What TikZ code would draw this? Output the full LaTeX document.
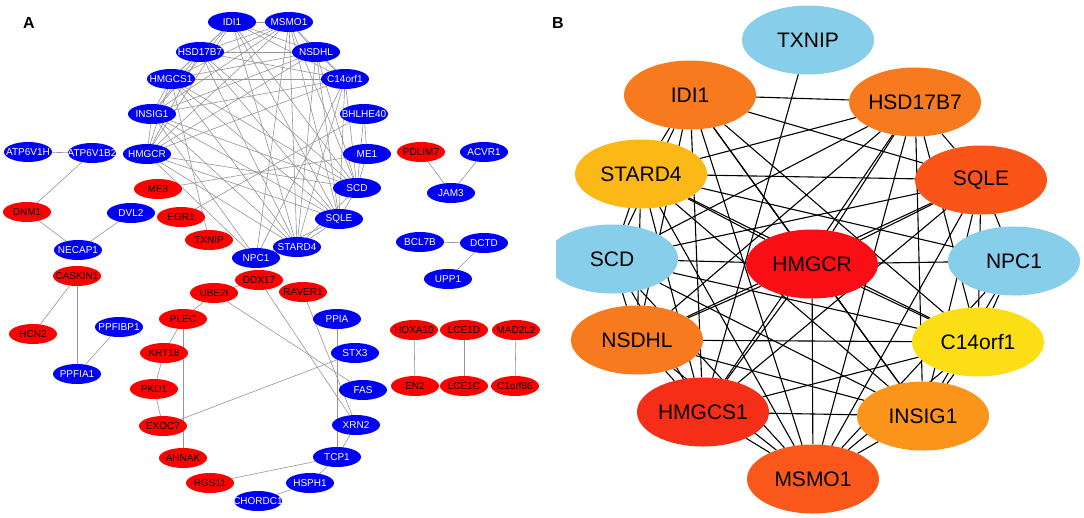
\documentclass[tikz,border=0pt]{standalone}
\usepackage{fontspec}
\setmainfont{Liberation Sans}
\usetikzlibrary{shapes.geometric}
\pgfdeclarelayer{back}
\pgfdeclarelayer{bg}
\pgfsetlayers{back,bg,main}
\definecolor{nblue}{RGB}{0,0,245}
\definecolor{nred}{RGB}{255,0,0}
\definecolor{egray}{RGB}{150,150,150}
\definecolor{lblue}{RGB}{135,206,235}
\definecolor{corA}{RGB}{248,122,30}
\definecolor{corSt}{RGB}{252,184,22}
\definecolor{corSq}{RGB}{250,84,24}
\definecolor{corHm}{RGB}{250,14,22}
\definecolor{corHc}{RGB}{245,46,24}
\definecolor{corIn}{RGB}{250,148,26}
\definecolor{corMs}{RGB}{250,88,26}
\definecolor{corC}{RGB}{252,222,22}
\newcommand{\lbl}[1]{\makebox[0pt][c]{#1}}
\tikzset{
  an/.style={ellipse, draw=none, minimum width=48pt, minimum height=20pt, inner sep=0pt, font=\fontsize{10}{11}\selectfont},
  ab/.style={an, fill=nblue, text=white},
  ar/.style={an, fill=nred, text=black},
  bn/.style={ellipse, draw=none, minimum width=132pt, minimum height=69pt, inner sep=0pt, font=\fontsize{21}{24}\selectfont, text=black},
  ae/.style={draw=egray, line width=0.6pt},
  be/.style={draw=black, line width=1.1pt},
  plabel/.style={font=\fontsize{16}{18}\selectfont\bfseries, inner sep=0pt},
}
\begin{document}
\begin{tikzpicture}[x=1pt,y=-1pt]
\useasboundingbox (0,0) rectangle (1084,517);
\begin{pgfonlayer}{back}
\fill[white] (0,0) rectangle (1084,517);
\end{pgfonlayer}
\node[plabel] (labA) at (29,23) {A};
\node[plabel] (labB) at (558,23) {B};
% ---------- panel A: main cluster
\node[ab] (aIDI1) at (232,22) {\lbl{IDI1}};
\node[ab] (aMSMO1) at (289,22) {\lbl{MSMO1}};
\node[ab] (aHSD17B7) at (200,52) {\lbl{HSD17B7}};
\node[ab] (aNSDHL) at (316,52) {\lbl{NSDHL}};
\node[ab] (aHMGCS1) at (171,79) {\lbl{HMGCS1}};
\node[ab] (aC14orf1) at (345,79) {\lbl{C14orf1}};
\node[ab] (aINSIG1) at (152,114) {\lbl{INSIG1}};
\node[ab] (aBHLHE40) at (364,114) {\lbl{BHLHE40}};
\node[ab] (aHMGCR) at (147,154) {\lbl{HMGCR}};
\node[ab] (aME1) at (367,154) {\lbl{ME1}};
\node[ar] (aME3) at (158,189) {\lbl{ME3}};
\node[ab] (aSCD) at (357,188) {\lbl{SCD}};
\node[ar] (aEGR1) at (181,217) {\lbl{EGR1}};
\node[ab] (aSQLE) at (339,219) {\lbl{SQLE}};
\node[ar] (aTXNIP) at (209,240) {\lbl{TXNIP}};
\node[ab] (aSTARD4) at (297,247) {\lbl{STARD4}};
\node[ab] (aNPC1) at (256,258) {\lbl{NPC1}};
% ---------- panel A: small components
\node[ab] (aATP6V1H) at (28,152) {\lbl{ATP6V1H}};
\node[ab] (aATP6V1B2) at (92,153) {\lbl{ATP6V1B2}};
\node[ar] (aDNM1) at (27,212) {\lbl{DNM1}};
\node[ab] (aDVL2) at (131,213) {\lbl{DVL2}};
\node[ab] (aNECAP1) at (78,250) {\lbl{NECAP1}};
\node[ar] (aCASKIN1) at (77,276) {\lbl{CASKIN1}};
\node[ar] (aHCN2) at (33,334) {\lbl{HCN2}};
\node[ab] (aPPFIBP1) at (119,327) {\lbl{PPFIBP1}};
\node[ab] (aPPFIA1) at (77,374) {\lbl{PPFIA1}};
\node[ar] (aPDLIM7) at (421,152) {\lbl{PDLIM7}};
\node[ab] (aACVR1) at (484,152) {\lbl{ACVR1}};
\node[ab] (aJAM3) at (451,193) {\lbl{JAM3}};
\node[ab] (aBCL7B) at (420,242) {\lbl{BCL7B}};
\node[ab] (aDCTD) at (484,243) {\lbl{DCTD}};
\node[ab] (aUPP1) at (448,279) {\lbl{UPP1}};
\node[ar] (aDDX17) at (259,280) {\lbl{DDX17}};
\node[ar] (aUBE2I) at (214,293) {\lbl{UBE2I}};
\node[ar] (aRAVER1) at (303,292) {\lbl{RAVER1}};
\node[ab] (aPPIA) at (337,319) {\lbl{PPIA}};
\node[ab] (aSTX3) at (355,353) {\lbl{STX3}};
\node[ab] (aFAS) at (363,390) {\lbl{FAS}};
\node[ab] (aXRN2) at (356,425) {\lbl{XRN2}};
\node[ab] (aTCP1) at (337,457) {\lbl{TCP1}};
\node[ab] (aHSPH1) at (310,483) {\lbl{HSPH1}};
\node[ab] (aCHORDC1) at (258,501) {\lbl{CHORDC1}};
\node[ar] (aPLEC) at (183,319) {\lbl{PLEC}};
\node[ar] (aKRT18) at (164,353) {\lbl{KRT18}};
\node[ar] (aPKD1) at (154,389) {\lbl{PKD1}};
\node[ar] (aEXOC7) at (163,426) {\lbl{EXOC7}};
\node[ar] (aAHNAK) at (183,458) {\lbl{AHNAK}};
\node[ar] (aRGS11) at (210,483) {\lbl{RGS11}};
\node[ar] (aHOXA10) at (414,330) {\lbl{HOXA10}};
\node[ar] (aLCE1D) at (464,330) {\lbl{LCE1D}};
\node[ar] (aMAD2L2) at (516,330) {\lbl{MAD2L2}};
\node[ar] (aEN2) at (415,386) {\lbl{EN2}};
\node[ar] (aLCE1C) at (464,386) {\lbl{LCE1C}};
\node[ar] (aC1orf86) at (515,386) {\lbl{C1orf86}};
% ---------- panel B
\node[bn, fill=lblue] (bTXNIP) at (808,40) {\lbl{TXNIP}};
\node[bn, fill=corA] (bIDI1) at (690,95) {\lbl{IDI1}};
\node[bn, fill=corA] (bHSD17B7) at (915,102) {\lbl{HSD17B7}};
\node[bn, fill=corSt] (bSTARD4) at (641,174) {\lbl{STARD4}};
\node[bn, fill=corSq] (bSQLE) at (981,180) {\lbl{SQLE}};
\begin{scope}
\clip (556,0) rectangle (1084,517);
\node[bn, fill=lblue] (bSCD) at (612,259) {\lbl{SCD}};
\end{scope}
\node[bn, fill=corHm] (bHMGCR) at (812,264) {\lbl{HMGCR}};
\node[bn, fill=lblue] (bNPC1) at (1014,261) {\lbl{NPC1}};
\node[bn, fill=corA] (bNSDHL) at (637,340) {\lbl{NSDHL}};
\node[bn, fill=corC] (bC14orf1) at (978,342) {\lbl{C14orf1}};
\node[bn, fill=corHc] (bHMGCS1) at (703,412) {\lbl{HMGCS1}};
\node[bn, fill=corIn] (bINSIG1) at (923,416) {\lbl{INSIG1}};
\node[bn, fill=corMs] (bMSMO1) at (813,479) {\lbl{MSMO1}};
% ---------- edges
\begin{pgfonlayer}{bg}
\foreach \u/\v in {TXNIP/HMGCS1,
  IDI1/HSD17B7, IDI1/SQLE, IDI1/SCD, IDI1/NSDHL, IDI1/HMGCS1, IDI1/MSMO1, IDI1/HMGCR, IDI1/INSIG1, IDI1/C14orf1, IDI1/STARD4,
  HSD17B7/STARD4, HSD17B7/HMGCR, HSD17B7/HMGCS1, HSD17B7/NSDHL, HSD17B7/MSMO1, HSD17B7/INSIG1, HSD17B7/C14orf1, HSD17B7/SQLE, HSD17B7/SCD,
  STARD4/SQLE, STARD4/NPC1, STARD4/C14orf1, STARD4/HMGCR, STARD4/SCD, STARD4/NSDHL, STARD4/HMGCS1, STARD4/MSMO1, STARD4/INSIG1,
  SQLE/HMGCR, SQLE/NSDHL, SQLE/SCD, SQLE/HMGCS1, SQLE/MSMO1, SQLE/INSIG1, SQLE/C14orf1, SQLE/NPC1,
  SCD/HMGCR, SCD/NSDHL, SCD/HMGCS1, SCD/MSMO1, SCD/INSIG1, SCD/C14orf1,
  HMGCR/NPC1, HMGCR/C14orf1, HMGCR/INSIG1, HMGCR/MSMO1, HMGCR/HMGCS1, HMGCR/NSDHL,
  NPC1/C14orf1, NPC1/INSIG1, NPC1/MSMO1,
  NSDHL/C14orf1, NSDHL/HMGCS1, NSDHL/MSMO1, NSDHL/INSIG1,
  C14orf1/HMGCS1, C14orf1/INSIG1, C14orf1/MSMO1,
  HMGCS1/INSIG1, HMGCS1/MSMO1, INSIG1/MSMO1}
{
  \draw[ae] (a\u) -- (a\v);
  \draw[be] (b\u) -- (b\v);
}
\foreach \u/\v in {BHLHE40/ME1, ME1/SCD, BHLHE40/SCD, ME3/ME1, EGR1/BHLHE40,
  ATP6V1H/ATP6V1B2, ATP6V1B2/DNM1, DNM1/NECAP1, NECAP1/DVL2,
  CASKIN1/HCN2, CASKIN1/PPFIA1, PPFIBP1/PPFIA1,
  PDLIM7/JAM3, ACVR1/JAM3, BCL7B/DCTD, DCTD/UPP1,
  HOXA10/EN2, LCE1D/LCE1C, MAD2L2/C1orf86,
  DDX17/UBE2I, UBE2I/PLEC, PLEC/KRT18, KRT18/PKD1, PKD1/EXOC7, PLEC/AHNAK, EXOC7/STX3,
  UBE2I/FAS, DDX17/XRN2, RAVER1/XRN2, PPIA/TCP1, XRN2/TCP1, TCP1/RGS11, TCP1/HSPH1, HSPH1/CHORDC1}
{
  \draw[ae] (a\u) -- (a\v);
}
\end{pgfonlayer}
\end{tikzpicture}
\end{document}
